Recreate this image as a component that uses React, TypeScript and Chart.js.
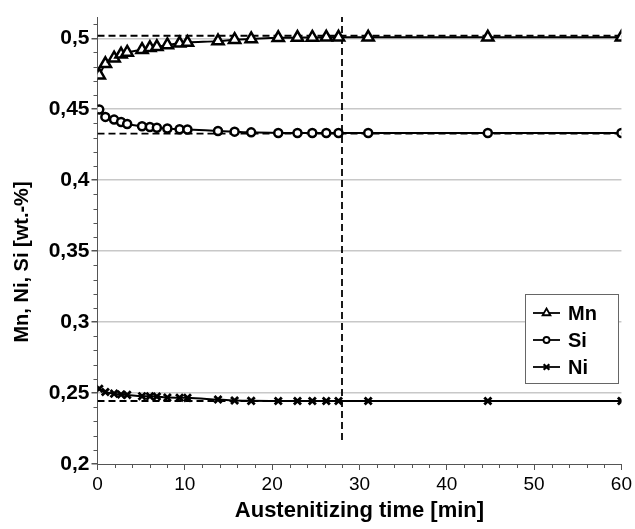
import React, { useEffect, useRef } from "react";
import { Chart, registerables } from "chart.js";

Chart.register(...registerables);

// Austenitizing time [min]
const times = [0.2, 0.9, 1.9, 2.7, 3.4, 5.1, 6.0, 6.8, 8.0, 9.4, 10.3, 13.8, 15.7, 17.6, 20.7, 22.9, 24.6, 26.2, 27.6, 31.0, 44.7, 60];
const mnValues = [0.474, 0.482, 0.486, 0.4887, 0.49, 0.492, 0.4933, 0.494, 0.4953, 0.4965, 0.497, 0.498, 0.499, 0.4995, 0.5003, 0.5005, 0.5006, 0.5007, 0.5007, 0.5007, 0.5007, 0.5007];
const siValues = [0.4498, 0.4446, 0.4427, 0.441, 0.4396, 0.438, 0.4375, 0.437, 0.4364, 0.4359, 0.4357, 0.4347, 0.4342, 0.4337, 0.4333, 0.4332, 0.4332, 0.4332, 0.4332, 0.4332, 0.4332, 0.4332];
const niValues = [0.253, 0.2507, 0.2496, 0.249, 0.2487, 0.2478, 0.2477, 0.2476, 0.2468, 0.2467, 0.2466, 0.2454, 0.2448, 0.2445, 0.2444, 0.2444, 0.2444, 0.2444, 0.2444, 0.2444, 0.2444, 0.2444];

// Equilibrium levels (dashed lines)
const eqTimes = [0, 60];
const mnEq = 0.5018;
const siEq = 0.4328;
const niEq = 0.2444;

// Vertical dashed marker
const markerTime = 28;
const markerRange = [0.217, 0.515];

const xTicks = [0, 10, 20, 30, 40, 50, 60];
const yTicks = [0.2, 0.25, 0.3, 0.35, 0.4, 0.45, 0.5];
const xMinorStep = 2;
const yMinorStep = 0.01;
const xTitle = "Austenitizing time [min]";
const yTitle = "Mn, Ni, Si [wt.-%]";
const legendLabels = ["Mn", "Si", "Ni"];

const FONT = "'Liberation Sans', Arial, sans-serif";

const pts = (xs: number[], ys: number[]) => xs.map((x, i) => ({ x, y: ys[i] }));

export default function App() {
  const ref = useRef<HTMLCanvasElement | null>(null);

  useEffect(() => {
    document.body.style.margin = "0";
    const canvas = ref.current;
    if (!canvas) return;

    function drawMarker(ctx: CanvasRenderingContext2D, style: string, r: number, x: number, y: number) {
      ctx.beginPath();
      if (style === "triangle") {
        let rad = 0;
        ctx.moveTo(x + Math.sin(rad) * r, y - Math.cos(rad) * r);
        rad += (2 * Math.PI) / 3;
        ctx.lineTo(x + Math.sin(rad) * r, y - Math.cos(rad) * r);
        rad += (2 * Math.PI) / 3;
        ctx.lineTo(x + Math.sin(rad) * r, y - Math.cos(rad) * r);
        ctx.closePath();
        ctx.fill();
        ctx.stroke();
      } else if (style === "circle") {
        ctx.arc(x, y, r, 0, Math.PI * 2);
        ctx.fill();
        ctx.stroke();
      } else {
        const o = r * Math.SQRT1_2;
        ctx.moveTo(x - o, y - o);
        ctx.lineTo(x + o, y + o);
        ctx.moveTo(x - o, y + o);
        ctx.lineTo(x + o, y - o);
        ctx.stroke();
      }
    }

    const decorations = {
      id: "decorations",
      afterDraw(chart: any) {
        const { ctx, chartArea, scales } = chart;
        const xs = scales.x;
        const ys = scales.y;
        ctx.save();
        // minor ticks
        ctx.strokeStyle = "#555";
        ctx.lineWidth = 1;
        ctx.beginPath();
        for (let k = Math.round(ys.min / yMinorStep); k * yMinorStep <= ys.max + 1e-9; k++) {
          if (k % 5 === 0) continue;
          const py = Math.round(ys.getPixelForValue(k * yMinorStep)) + 0.5;
          ctx.moveTo(chartArea.left - 4, py);
          ctx.lineTo(chartArea.left, py);
        }
        for (let v = xs.min; v <= xs.max + 1e-9; v += xMinorStep) {
          if (v % 10 === 0) continue;
          const px = Math.round(xs.getPixelForValue(v)) + 0.5;
          ctx.moveTo(px, chartArea.bottom);
          ctx.lineTo(px, chartArea.bottom + 4);
        }
        ctx.stroke();

        // axis titles
        ctx.fillStyle = "#000";
        ctx.font = `bold 22px ${FONT}`;
        ctx.textAlign = "center";
        ctx.textBaseline = "middle";
        ctx.fillText(xTitle, (chartArea.left + chartArea.right) / 2, 511);
        ctx.save();
        ctx.translate(22, 262);
        ctx.rotate(-Math.PI / 2);
        ctx.font = `bold 20px ${FONT}`;
        ctx.fillText(yTitle, 0, 0);
        ctx.restore();

        // legend
        const bx = 525.5, by = 294.5, bw = 93, bh = 89;
        ctx.fillStyle = "#fff";
        ctx.fillRect(bx, by, bw, bh);
        ctx.strokeStyle = "#666";
        ctx.lineWidth = 1;
        ctx.strokeRect(bx, by, bw, bh);
        const rows = [313, 340, 367];
        const styles = ["triangle", "circle", "crossRot"];
        const radii = [4.5, 3, 4];
        rows.forEach((ry, i) => {
          ctx.strokeStyle = "#000";
          ctx.lineWidth = 1.8;
          ctx.beginPath();
          ctx.moveTo(533, ry);
          ctx.lineTo(560, ry);
          ctx.stroke();
          ctx.fillStyle = "#fff";
          ctx.lineWidth = i === 2 ? 2.2 : 1.8;
          drawMarker(ctx, styles[i], radii[i], 546.5, ry);
          ctx.fillStyle = "#000";
          ctx.font = `bold 20px ${FONT}`;
          ctx.textAlign = "left";
          ctx.textBaseline = "middle";
          ctx.fillText(legendLabels[i], 568, ry + 1);
        });
        ctx.restore();
      },
    };

    const series = (data: any[], pointStyle: string, radius: number, bw: number) => ({
      data,
      showLine: true,
      borderColor: "#000",
      borderWidth: 2,
      pointStyle,
      pointRadius: radius,
      pointBorderWidth: bw,
      pointBorderColor: "#000",
      pointBackgroundColor: "#fff",
      cubicInterpolationMode: "monotone",
    });

    const dashed = (data: any[]) => ({
      data,
      showLine: true,
      borderColor: "#000",
      borderWidth: 1.8,
      borderDash: [7, 4],
      pointRadius: 0,
    });

    const chart = new Chart(canvas, {
      type: "scatter",
      data: {
        datasets: [
          series(pts(times, mnValues), "triangle", 6.5, 2.5),
          series(pts(times, siValues), "circle", 4, 2.5),
          series(pts(times, niValues), "crossRot", 5, 2.8),
          dashed(pts(eqTimes, [mnEq, mnEq])),
          dashed(pts(eqTimes, [siEq, siEq])),
          dashed(pts(eqTimes, [niEq, niEq])),
          dashed(pts([markerTime, markerTime], markerRange)),
        ] as any,
      },
      plugins: [decorations],
      options: {
        responsive: false,
        animation: false,
        events: [],
        layout: { padding: { top: 17, right: 10.5, left: 0, bottom: 0 } },
        plugins: {
          legend: { display: false },
          tooltip: { enabled: false },
        },
        scales: {
          x: {
            type: "linear",
            min: 0,
            max: 60,
            afterBuildTicks: (s: any) => {
              s.ticks = xTicks.map((v) => ({ value: v }));
            },
            afterFit: (s: any) => {
              s.height = 65;
            },
            grid: {
              color: "rgba(0,0,0,0)",
              tickColor: "#555",
              tickLength: 6,
            },
            border: { color: "#555", width: 1 },
            ticks: {
              color: "#000",
              font: { family: FONT, size: 19 },
              padding: 3,
              maxRotation: 0,
              autoSkip: false,
            },
          },
          y: {
            type: "linear",
            min: 0.2,
            max: 0.515,
            afterBuildTicks: (s: any) => {
              s.ticks = yTicks.map((v) => ({ value: v }));
            },
            afterFit: (s: any) => {
              s.width = 97.5;
            },
            grid: {
              color: (c: any) => (c.tick && c.tick.value === 0.2 ? "rgba(0,0,0,0)" : "#c8c8c8"),
              tickColor: "#555",
              tickLength: 6,
              lineWidth: 1.5,
            },
            border: { color: "#555", width: 1 },
            ticks: {
              color: "#000",
              font: { family: FONT, size: 21, weight: "bold" },
              padding: 2,
              autoSkip: false,
              callback: (v: any) => String(v).replace(".", ","),
            },
          },
        },
      } as any,
    });

    return () => chart.destroy();
  }, []);

  return (
    <div style={{ position: "relative", width: 635, height: 529 }}>
      <canvas ref={ref} width={635} height={529} style={{ display: "block" }} />
    </div>
  );
}
